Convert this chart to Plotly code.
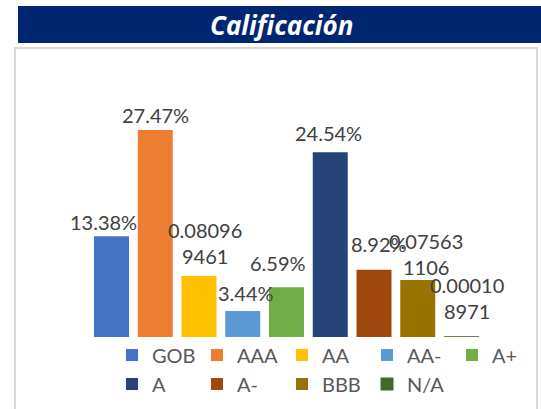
import plotly.graph_objects as go

# ---- data ----
categories = ["GOB", "AAA", "AA", "AA-", "A+", "A", "A-", "BBB", "N/A"]
values = [0.1338, 0.2747, 0.080969461, 0.0344, 0.0659, 0.2454, 0.0892, 0.075631106, 0.000108971]
labels = ["13.38%", "27.47%", "0.08096<br>9461", "3.44%", "6.59%", "24.54%", "8.92%",
          "0.07563<br>1106", "0.00010<br>8971"]
row1 = ["GOB", "AAA", "AA", "AA-", "A+"]

# ---- style ----
colors = ["#4472C4", "#ED7D31", "#FFC000", "#5B9BD5", "#70AD47",
          "#264478", "#9E480E", "#997300", "#43682B"]
label_dx = [-8, 0, 6, 3, -9, -2, 5, 8, 5]
label_dy = [14, 15, 33, 18, 24, 19, 26, 26, 39]

W, H = 541, 409
L, R, T, B = 40, 520, 111, 337
step = 43.75
first_center, last_center = 111.5, 461.5


def px_x(p):
    return (p - L) / (R - L)


def px_y(p):
    return (B - p) / (B - T)


fig = go.Figure()
for i, c in enumerate(categories):
    fig.add_trace(go.Bar(
        x=[c], y=[values[i]], name=c,
        marker=dict(color=colors[i], line=dict(color=colors[i], width=1 if values[i] < 0.001 else 0)),
        legend="legend" if c in row1 else "legend2",
        hoverinfo="skip",
    ))

annotations = []
for i, c in enumerate(categories):
    annotations.append(dict(
        x=c, y=values[i], xref="x", yref="y", text=labels[i], showarrow=False,
        yanchor="middle", xanchor="center", xshift=label_dx[i], yshift=label_dy[i],
        font=dict(family="Lato", size=20, color="#404040"),
    ))
annotations.append(dict(
    x=px_x(281), y=px_y(25), xref="paper", yref="paper",
    text="<b><i>Calificación</i></b>", showarrow=False,
    xanchor="center", yanchor="middle",
    font=dict(family="Open Sans", size=26, color="white"),
))

shapes = [
    dict(type="rect", xref="paper", yref="paper",
         x0=px_x(18), x1=px_x(560), y0=px_y(43), y1=px_y(6),
         fillcolor="#002672", line=dict(width=0), layer="below"),
    dict(type="rect", xref="paper", yref="paper",
         x0=px_x(15), x1=px_x(537), y0=px_y(430), y1=px_y(48),
         fillcolor="rgba(0,0,0,0)", line=dict(color="#D9D9D9", width=2), layer="below"),
]

legend_common = dict(
    orientation="h", xanchor="left", yanchor="middle",
    font=dict(family="Lato", size=20, color="#595959"),
    entrywidth=40, bgcolor="rgba(0,0,0,0)", borderwidth=0,
    itemclick=False, itemdoubleclick=False,
)

fig.update_layout(
    width=W, height=H,
    margin=dict(l=L, r=W - R, t=T, b=H - B, pad=0, autoexpand=False),
    paper_bgcolor="white", plot_bgcolor="white",
    barmode="overlay", bargap=0.2,
    xaxis=dict(type="category", categoryorder="array", categoryarray=categories,
               range=[-(first_center - L) / step, 8 + (R - last_center) / step],
               visible=False, fixedrange=True),
    yaxis=dict(range=[0, 0.30], visible=False, fixedrange=True),
    legend=dict(x=px_x(112), y=px_y(355), **legend_common),
    legend2=dict(x=px_x(112), y=px_y(384), **legend_common),
    showlegend=True,
    annotations=annotations,
    shapes=shapes,
)

fig.write_html(
    "out.html",
    config={"displayModeBar": False},
    post_script="document.body.style.margin='0';document.body.style.overflow='hidden';",
)
